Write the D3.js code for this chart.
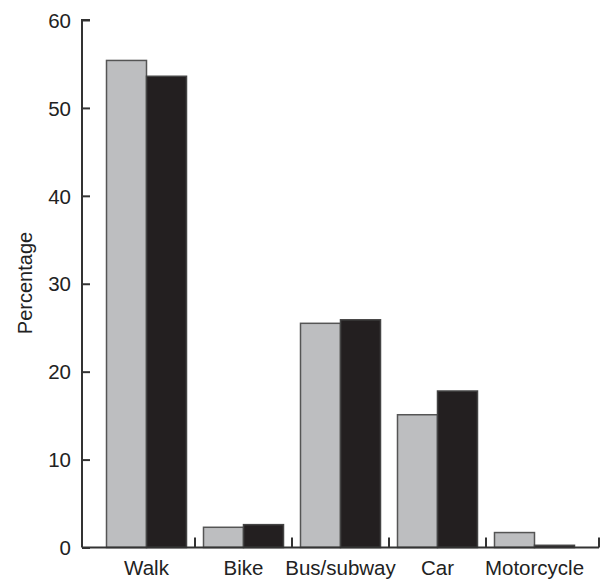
<!DOCTYPE html>
<html>
<head>
<meta charset="utf-8">
<script src="https://cdn.jsdelivr.net/npm/d3@7"></script>
<style>
  body { margin: 0; background: #fff; }
  svg { display: block; }
  text { font-family: "Liberation Sans", Arial, sans-serif; fill: #222; }
</style>
</head>
<body>
<svg id="chart" width="601" height="579"></svg>
<script>
// Travel mode shares (%), two survey groups
const categories = ["Walk", "Bike", "Bus/subway", "Car", "Motorcycle"];
const seriesGrey = [55.4, 2.3, 25.5, 15.1, 1.7];
const seriesBlack = [53.6, 2.6, 25.9, 17.8, 0.25];
const yTicks = [0, 10, 20, 30, 40, 50, 60];

const svg = d3.select("#chart");
const plotLeft = 82, plotRight = 599, plotTop = 20, plotBottom = 547.5;

const x = d3.scaleBand().domain(categories).range([plotLeft, plotRight])
  .paddingInner(0).paddingOuter(0.165);
const y = d3.scaleLinear().domain([0, 60]).range([plotBottom, plotTop]);

const barW = 40;
const axisColor = "#333";

// bars
const groups = svg.append("g").selectAll("g")
  .data(categories.map((c, i) => ({ c, g: seriesGrey[i], b: seriesBlack[i] })))
  .join("g")
  .attr("transform", d => `translate(${x(d.c) + x.bandwidth() / 2},0)`);

groups.append("rect")
  .attr("x", -barW).attr("width", barW)
  .attr("y", d => y(d.g)).attr("height", d => y(0) - y(d.g))
  .attr("fill", "#bdbec0").attr("stroke", "#555").attr("stroke-width", 1.5);

groups.append("rect")
  .attr("x", 0).attr("width", barW)
  .attr("y", d => y(d.b)).attr("height", d => y(0) - y(d.b))
  .attr("fill", "#231f20").attr("stroke", "#444").attr("stroke-width", 1.5);

// y axis
const yAxis = svg.append("g")
  .attr("transform", `translate(${plotLeft},0)`)
  .call(d3.axisRight(y).tickValues(yTicks).tickSize(8).tickFormat(d3.format("d")));
yAxis.select(".domain").attr("stroke", axisColor).attr("stroke-width", 2)
  .attr("d", `M8,${plotTop}H0V${plotBottom}`);
yAxis.selectAll(".tick line").attr("stroke", axisColor).attr("stroke-width", 2);
yAxis.selectAll(".tick text")
  .attr("x", -11).attr("text-anchor", "end").attr("dy", "0.35em")
  .style("font-size", "20.5px").style("fill", "#222");

// x axis baseline with category separators
svg.append("line")
  .attr("x1", plotLeft).attr("x2", plotRight).attr("y1", plotBottom).attr("y2", plotBottom)
  .attr("stroke", axisColor).attr("stroke-width", 2);

const sepX = categories.slice(1).map(c => x(c)).concat([plotRight]);
svg.append("g").selectAll("line").data(sepX).join("line")
  .attr("x1", d => d).attr("x2", d => d)
  .attr("y1", plotBottom).attr("y2", plotBottom - 10)
  .attr("stroke", axisColor).attr("stroke-width", 2);

// category labels
svg.append("g").selectAll("text").data(categories).join("text")
  .attr("x", d => x(d) + x.bandwidth() / 2)
  .attr("y", 575)
  .attr("text-anchor", "middle")
  .style("font-size", "20.5px")
  .text(d => d);

// y axis title
svg.append("text")
  .attr("transform", `translate(32,283) rotate(-90)`)
  .attr("text-anchor", "middle")
  .style("font-size", "20px")
  .text("Percentage");
</script>
</body>
</html>
